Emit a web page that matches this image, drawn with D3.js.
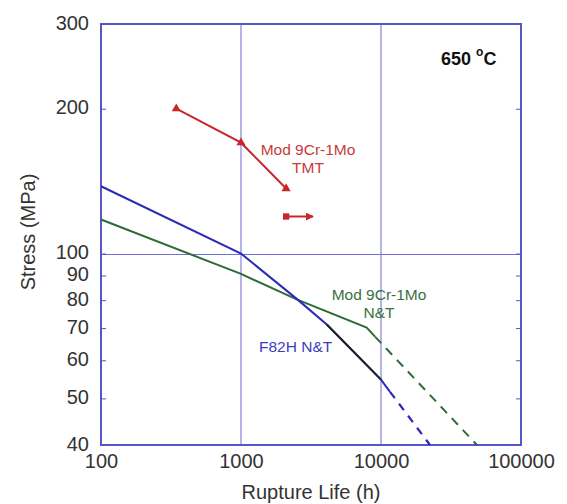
<!DOCTYPE html>
<meta charset="utf-8">
<style>
body { margin: 0; background: #fff; font-family: Arial, "Liberation Sans", sans-serif; }
.tick text { font-size: 20px; fill: #333; }
.lbl { font-size: 15.5px; }
</style>
<body>
<svg id="chart" width="567" height="504"></svg>
<script src="https://d3js.org/d3.v7.min.js"></script>
<script>

// tick values
var xTicks = [100, 1000, 10000, 100000];
var yTicks = [40, 50, 60, 70, 80, 90, 100, 200, 300];
var xGrid = [1000, 10000];
var yGrid = [100];

// F82H N&T
var f82hSolid = [[100, 138], [1000, 100], [2500, 80.5], [4100, 71.2], [10000, 54.7], [11600, 51.6]];
var f82hBlack = [[4100, 71.2], [10000, 54.7]];
var f82hDash = [[11600, 51.6], [22400, 40]];

// Mod 9Cr-1Mo N&T
var ntSolid = [[100, 117.7], [1000, 90.7], [2500, 80.3], [7900, 70.2], [9060, 67.2]];
var ntDash = [[9060, 67.2], [48500, 40]];

// Mod 9Cr-1Mo TMT
var tmt = [[345, 200], [1000, 170], [2100, 136.5]];
var tmtRunout = [[2100, 119.4], [3270, 119.4]];

var svg = d3.select("#chart"),
    margin = {top: 24, right: 46, bottom: 59, left: 101},
    width = +svg.attr("width") - margin.left - margin.right,
    height = +svg.attr("height") - margin.top - margin.bottom;

var x = d3.scaleLog().domain([100, 100000]).range([0, width]);
var y = d3.scaleLog().domain([40, 300]).range([height, 0]);

var g = svg.append("g")
    .attr("transform", "translate(" + margin.left + "," + margin.top + ")");

var frameColor = "#5656c8";

// grid lines
g.selectAll(".vgrid").data(xGrid).enter().append("line")
    .attr("x1", function(d) { return x(d); }).attr("x2", function(d) { return x(d); })
    .attr("y1", 0).attr("y2", height)
    .attr("stroke", "#6a6ad4").attr("stroke-width", 1);
g.selectAll(".hgrid").data(yGrid).enter().append("line")
    .attr("x1", 0).attr("x2", width)
    .attr("y1", function(d) { return Math.round(y(d)) + 0.5; })
    .attr("y2", function(d) { return Math.round(y(d)) + 0.5; })
    .attr("stroke", "#7070d8").attr("stroke-width", 1.2);

// axes
var xAxis = g.append("g")
    .attr("transform", "translate(0," + height + ")")
    .call(d3.axisBottom(x).tickValues(xTicks).tickFormat(d3.format("d")).tickSize(0).tickPadding(9));
var yAxis = g.append("g")
    .call(d3.axisLeft(y).tickValues(yTicks).tickFormat(d3.format("d")).tickSize(-5).tickPadding(12));
var yAxisR = g.append("g")
    .attr("transform", "translate(" + width + ",0)")
    .call(d3.axisRight(y).tickValues(yTicks).tickFormat("").tickSize(-5));

[xAxis, yAxis, yAxisR].forEach(function(a) {
  a.select(".domain").remove();
  a.selectAll("line").attr("stroke", frameColor);
});
xAxis.selectAll("text").attr("dy", "0.71em");
yAxis.selectAll("text").attr("dy", "0.25em");

// frame
g.append("rect")
    .attr("width", width).attr("height", height)
    .attr("fill", "none").attr("stroke", frameColor).attr("stroke-width", 2);

var line = d3.line()
    .x(function(d) { return x(d[0]); })
    .y(function(d) { return y(d[1]); });

var blue = "#2a2ab8", green = "#2f6b35", red = "#c8262a";

g.append("path").datum(ntSolid).attr("d", line)
    .attr("fill", "none").attr("stroke", green).attr("stroke-width", 2);
g.append("path").datum(ntDash).attr("d", line)
    .attr("fill", "none").attr("stroke", green).attr("stroke-width", 2)
    .attr("stroke-dasharray", "9,7");

g.append("path").datum(f82hSolid).attr("d", line)
    .attr("fill", "none").attr("stroke", blue).attr("stroke-width", 2);
g.append("path").datum(f82hBlack).attr("d", line)
    .attr("fill", "none").attr("stroke", "#222").attr("stroke-width", 2);
g.append("path").datum(f82hDash).attr("d", line)
    .attr("fill", "none").attr("stroke", blue).attr("stroke-width", 2.2)
    .attr("stroke-dasharray", "8,7");

// TMT
svg.append("defs").append("marker")
    .attr("id", "arrow").attr("viewBox", "0 0 10 10")
    .attr("refX", 9).attr("refY", 5)
    .attr("markerWidth", 4).attr("markerHeight", 4)
    .attr("orient", "auto")
  .append("path").attr("d", "M0,0L10,5L0,10Z").attr("fill", red);

g.append("path").datum(tmt).attr("d", line)
    .attr("fill", "none").attr("stroke", red).attr("stroke-width", 2);
g.selectAll(".tri").data(tmt).enter().append("path")
    .attr("d", d3.symbol().type(d3.symbolTriangle).size(36))
    .attr("transform", function(d) { return "translate(" + x(d[0]) + "," + y(d[1]) + ")"; })
    .attr("fill", red);

g.append("path").datum(tmtRunout).attr("d", line)
    .attr("fill", "none").attr("stroke", red).attr("stroke-width", 2)
    .attr("marker-end", "url(#arrow)");
g.append("path")
    .attr("d", d3.symbol().type(d3.symbolSquare).size(40))
    .attr("transform", "translate(" + x(tmtRunout[0][0]) + "," + y(tmtRunout[0][1]) + ")")
    .attr("fill", red);

// labels
function label(lines, cx, y0, color) {
  var t = svg.append("text").attr("class", "lbl").attr("fill", color)
      .attr("text-anchor", "middle");
  lines.forEach(function(s, i) {
    t.append("tspan").attr("x", cx).attr("y", y0 + i * 18).text(s);
  });
}
label(["Mod 9Cr-1Mo", "TMT"], 308, 155, "#c83a3a");
label(["Mod 9Cr-1Mo", "N&T"], 379, 300, "#3a7040");
svg.append("text").attr("class", "lbl").attr("fill", "#3d3dc0")
    .attr("x", 259).attr("y", 352).text("F82H N&T");

var temp = svg.append("text").attr("x", 441).attr("y", 65)
    .attr("font-size", "18px").attr("font-weight", "bold").attr("fill", "#111");
temp.append("tspan").text("650 ");
temp.append("tspan").attr("font-size", "12px").attr("dy", "-9").text("o");
temp.append("tspan").attr("dy", "9").text("C");

// axis titles
svg.append("text")
    .attr("x", margin.left + x(10000) - 70).attr("y", 499)
    .attr("text-anchor", "middle").attr("font-size", "20px").attr("fill", "#333")
    .text("Rupture Life (h)");
svg.append("text")
    .attr("transform", "translate(35,232) rotate(-90)")
    .attr("text-anchor", "middle").attr("font-size", "20px").attr("fill", "#333")
    .text("Stress (MPa)");
</script>
</body>
